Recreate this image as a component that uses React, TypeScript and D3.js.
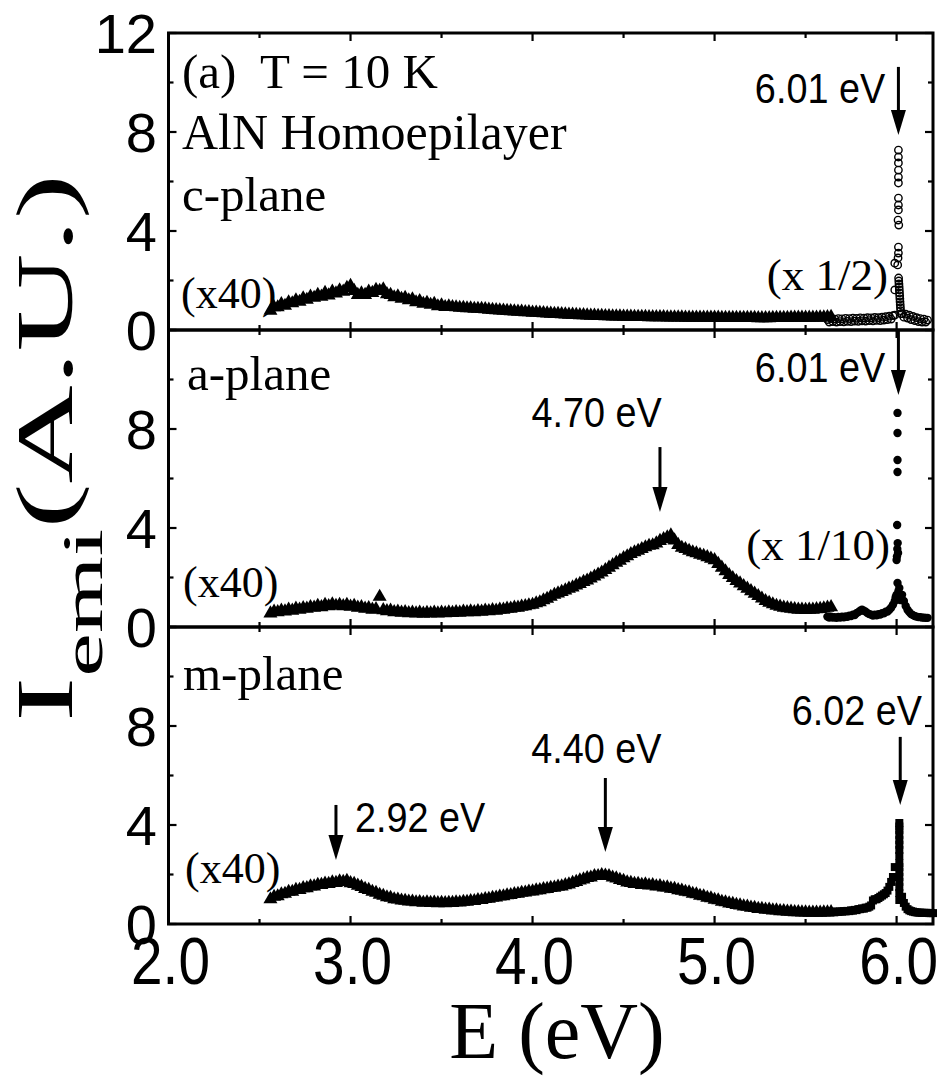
import React from "react";
import * as d3 from "d3";

const W = 947;
const H = 1076;

// Axis layout
const X_DOMAIN: [number, number] = [2.0, 6.2];
const X_MAJOR = [2, 3, 4, 5, 6];
const X_MINOR = [2.5, 3.5, 4.5, 5.5];
const X_LABELS = ["2.0", "3.0", "4.0", "5.0", "6.0"];
const Y_DOMAIN: [number, number] = [0, 12];
const Y_MAJOR = [0, 4, 8, 12];
const Y_MINOR = [2, 6, 10];

// Broad defect band (x40): triangles on a regular energy grid
const BAND_START = 2.56;
const BAND_STEP = 0.02;

const cBand = [
  0.78, 0.92, 0.92, 1.05, 0.98, 1.12, 1.08, 1.2, 1.14, 1.28,
  1.22, 1.35, 1.3, 1.42, 1.35, 1.5, 1.4, 1.55, 1.48, 1.6,
  1.55, 1.7, 1.78, 1.58, 1.42, 1.48, 1.42, 1.55, 1.5, 1.62,
  1.58, 1.64, 1.45, 1.42, 1.32, 1.36, 1.26, 1.3, 1.2, 1.24,
  1.12, 1.17, 1.06, 1.1, 1.02, 1.06, 0.96, 1.0, 0.93, 0.96,
  0.93, 0.92, 0.9, 0.9, 0.88, 0.88, 0.86, 0.86, 0.85, 0.84,
  0.82, 0.81, 0.8, 0.79, 0.78, 0.77, 0.76, 0.75, 0.74, 0.74,
  0.72, 0.72, 0.7, 0.7, 0.69, 0.68, 0.67, 0.66, 0.65, 0.65,
  0.64, 0.63, 0.62, 0.62, 0.61, 0.6, 0.6, 0.59, 0.58, 0.58,
  0.57, 0.57, 0.56, 0.56, 0.55, 0.55, 0.55, 0.54, 0.54, 0.54,
  0.53, 0.53, 0.53, 0.53, 0.52, 0.52, 0.52, 0.52, 0.52, 0.51,
  0.51, 0.51, 0.51, 0.51, 0.5, 0.5, 0.5, 0.5, 0.5, 0.5,
  0.5, 0.5, 0.5, 0.5, 0.49, 0.49, 0.49, 0.49, 0.49, 0.49,
  0.49, 0.49, 0.49, 0.49, 0.48, 0.48, 0.48, 0.48, 0.49, 0.49,
  0.49, 0.49, 0.49, 0.5, 0.5, 0.5, 0.5, 0.5, 0.5, 0.5,
  0.5, 0.51, 0.51, 0.52, 0.53,
];

const aBand = [
  0.55, 0.62, 0.6, 0.66, 0.63, 0.7, 0.66, 0.74, 0.7, 0.76,
  0.74, 0.8, 0.78, 0.86, 0.8, 0.9, 0.84, 0.92, 0.86, 0.9,
  0.84, 0.9, 0.82, 0.86, 0.78, 0.8, 0.74, 0.76, 0.7, 0.72,
  1.22, 0.68, 0.64, 0.66, 0.6, 0.62, 0.58, 0.6, 0.56, 0.58,
  0.55, 0.58, 0.54, 0.57, 0.55, 0.58, 0.55, 0.58, 0.56, 0.59,
  0.57, 0.6, 0.58, 0.62, 0.6, 0.63, 0.6, 0.64, 0.62, 0.66,
  0.64, 0.68, 0.66, 0.7, 0.7, 0.74, 0.74, 0.78, 0.78, 0.82,
  0.84, 0.88, 0.9, 0.96, 1.0, 1.08, 1.14, 1.22, 1.3, 1.36,
  1.42, 1.48, 1.55, 1.6, 1.68, 1.74, 1.82, 1.88, 1.96, 2.04,
  2.12, 2.2, 2.3, 2.4, 2.5, 2.6, 2.68, 2.78, 2.86, 2.95,
  3.02, 3.08, 3.15, 3.22, 3.28, 3.3, 3.38, 3.48, 3.55, 3.62,
  3.7, 3.5, 3.32, 3.2, 3.15, 3.08, 3.02, 2.98, 2.92, 2.88,
  2.82, 2.76, 2.7, 2.55, 2.4, 2.25, 2.1, 1.98, 1.86, 1.76,
  1.65, 1.55, 1.45, 1.35, 1.25, 1.15, 1.05, 0.98, 0.92, 0.86,
  0.82, 0.78, 0.76, 0.74, 0.72, 0.7, 0.7, 0.69, 0.7, 0.7,
  0.72, 0.73, 0.75, 0.78, 0.8,
];

const mBand = [
  1.0, 1.1, 1.12, 1.2, 1.22, 1.3, 1.3, 1.38, 1.38, 1.45,
  1.45, 1.52, 1.52, 1.58, 1.58, 1.63, 1.62, 1.68, 1.66, 1.72,
  1.7, 1.74, 1.65, 1.62, 1.55, 1.5, 1.42, 1.38, 1.3, 1.26,
  1.18, 1.14, 1.08, 1.06, 1.0, 0.99, 0.95, 0.94, 0.91, 0.91,
  0.88, 0.89, 0.86, 0.88, 0.85, 0.87, 0.84, 0.86, 0.84, 0.86,
  0.85, 0.88, 0.87, 0.9, 0.9, 0.93, 0.93, 0.97, 0.97, 1.01,
  1.02, 1.06, 1.07, 1.11, 1.12, 1.16, 1.17, 1.21, 1.22, 1.26,
  1.27, 1.31, 1.32, 1.36, 1.37, 1.41, 1.42, 1.46, 1.47, 1.51,
  1.52, 1.57, 1.6, 1.66, 1.7, 1.76, 1.8, 1.86, 1.88, 1.94,
  1.94, 1.98, 1.96, 1.94, 1.88, 1.84, 1.78, 1.74, 1.68, 1.66,
  1.62, 1.62, 1.58, 1.6, 1.56, 1.57, 1.52, 1.53, 1.48, 1.48,
  1.43, 1.42, 1.37, 1.35, 1.3, 1.28, 1.22, 1.2, 1.14, 1.12,
  1.06, 1.04, 0.98, 0.96, 0.9, 0.88, 0.83, 0.81, 0.77, 0.75,
  0.71, 0.7, 0.66, 0.65, 0.61, 0.61, 0.58, 0.58, 0.55, 0.55,
  0.52, 0.52, 0.5, 0.5, 0.48, 0.48, 0.47, 0.47, 0.46, 0.46,
  0.46, 0.46, 0.47, 0.47, 0.48,
];

// Near-band-edge emission: low-energy tail, peak column, high-energy tail
const EDGE_STEP = 0.01;

// c-plane (x 1/2), open circles
const cLowStart = 5.62;
const cLow = [
  0.42, 0.32, 0.46, 0.34, 0.44, 0.32, 0.46, 0.34, 0.45, 0.33,
  0.47, 0.35, 0.46, 0.34, 0.48, 0.36, 0.47, 0.35, 0.49, 0.37,
  0.48, 0.36, 0.5, 0.38, 0.49, 0.37, 0.51, 0.39, 0.5, 0.38,
  0.52, 0.4, 0.54, 0.42, 0.56, 0.44, 0.58, 0.6,
];
const cHighStart = 6.03;
const cHigh = [0.66, 0.52, 0.64, 0.48, 0.6, 0.42, 0.55, 0.38, 0.5, 0.34, 0.46, 0.32, 0.44, 0.32, 0.4];
const cPeakE = [
  6.01, 6.01, 6.01, 6.01, 6.01, 6.01, 6.01, 6.01, 6.01, 6.008,
  6.012, 6.01, 6.01, 6.008, 6.006, 5.99, 5.99,
  6.011, 6.012, 6.013, 6.014, 6.015, 6.016, 6.017, 6.018, 6.019,
  6.02, 6.021, 6.022, 6.023,
];
const cPeakI = [
  7.27, 6.99, 6.75, 6.46, 6.18, 5.94, 5.33, 5.05, 4.85, 4.44,
  4.24, 3.35, 3.11, 2.91, 2.63, 2.7, 1.62,
  2.1, 1.98, 1.86, 1.74, 1.62, 1.5, 1.38, 1.26, 1.14,
  1.02, 0.9, 0.78, 0.66,
];

// a-plane (x 1/10), filled circles
const aLowStart = 5.62;
const aLow = [
  0.42, 0.38, 0.42, 0.38, 0.4, 0.37, 0.41, 0.38, 0.42, 0.39,
  0.43, 0.41, 0.46, 0.44, 0.5, 0.48, 0.56, 0.6, 0.66, 0.7,
  0.66, 0.62, 0.56, 0.52, 0.5, 0.46, 0.5, 0.47, 0.52, 0.5,
  0.56, 0.55, 0.62, 0.62, 0.7, 0.78, 0.9, 1.05,
];
const aHighStart = 6.03;
const aHigh = [1.3, 1.05, 0.85, 0.7, 0.6, 0.52, 0.48, 0.44, 0.42, 0.4, 0.4, 0.38, 0.38, 0.37, 0.37];
const aPeakE = [
  6.005, 6.005, 6.005, 6.005, 6.003, 6.006, 6.004, 6.008, 6.0, 6.002,
  6.005, 6.015, 6.0, 6.02, 5.995, 6.01,
];
const aPeakI = [
  8.65, 7.84, 6.75, 6.26, 4.12, 3.39, 3.15, 2.99, 2.71, 2.85,
  1.78, 1.58, 1.3, 1.09, 1.2, 1.45,
];

// m-plane, filled squares
const mLowStart = 5.64;
const mLow = [
  0.48, 0.5, 0.48, 0.5, 0.49, 0.51, 0.5, 0.52, 0.51, 0.53,
  0.52, 0.55, 0.54, 0.57, 0.56, 0.6, 0.6, 0.63, 0.62, 0.66,
  0.66, 0.7, 0.75, 0.95, 1.0, 1.0, 1.05, 1.1, 1.15, 1.2,
  1.25, 1.35, 1.5, 1.7, 1.9, 2.3,
];
const mHighStart = 6.03;
const mHigh = [
  1.1, 0.85, 0.7, 0.6, 0.55, 0.52, 0.5, 0.48, 0.47, 0.46,
  0.46, 0.45, 0.45, 0.45, 0.45, 0.44, 0.44, 0.44,
];
const mPeakE = [
  6.015, 6.015, 6.015, 6.015, 6.015, 6.015, 6.015, 6.015,
  6.015, 6.015, 6.015, 6.015, 6.015, 6.015, 6.015, 6.015,
];
const mPeakI = [
  4.08, 3.94, 3.8, 3.6, 3.39, 3.2, 2.99, 2.75,
  2.46, 2.3, 2.1, 1.9, 1.7, 1.49, 1.25, 0.97,
];

// Peak markers: panel, energy, arrow top and tip (intensity units)
const arrowPanel = [0, 1, 1, 2, 2, 2];
const arrowE = [6.01, 6.01, 4.7, 6.02, 4.4, 2.92];
const arrowTop = [10.63, 12.0, 7.27, 7.56, 5.9, 4.81];
const arrowTip = [7.88, 9.37, 4.65, 4.81, 2.91, 2.59];
const arrowText = ["6.01 eV", "6.01 eV", "4.70 eV", "6.02 eV", "4.40 eV", "2.92 eV"];
const arrowTextE = [5.937, 5.937, 4.352, 6.14, 4.35, 3.025];
const arrowTextI = [9.17, 9.9, 8.08, 8.04, 6.5, 3.72];
const arrowTextAnchor = ["end", "end", "middle", "end", "middle", "start"];

const serifFont = "'Liberation Serif', 'Times New Roman', serif";
const sansFont = "'Liberation Sans', Arial, sans-serif";

const PLOT_LEFT = 168.5;
const PLOT_RIGHT = 933;
const PANEL_TOPS = [33, 330, 627];
const PANEL_H = 297;

const x = d3.scaleLinear().domain(X_DOMAIN).range([PLOT_LEFT, PLOT_RIGHT]);
const yScales = PANEL_TOPS.map((t) =>
  d3.scaleLinear().domain(Y_DOMAIN).range([t + PANEL_H, t])
);

const grid = (start: number, step: number, n: number) =>
  d3.range(n).map((i) => +(start + i * step).toFixed(3));

function edgeSeries(lowStart: number, low: number[], highStart: number, high: number[], pe: number[], pi: number[]) {
  const le = grid(lowStart, EDGE_STEP, low.length);
  const he = grid(highStart, EDGE_STEP, high.length);
  return [
    ...le.map((e, i) => [e, low[i]]),
    ...he.map((e, i) => [e, high[i]]),
    ...pe.map((e, i) => [e, pi[i]]),
  ] as [number, number][];
}

const cEdge = edgeSeries(cLowStart, cLow, cHighStart, cHigh, cPeakE, cPeakI);
const aEdge = edgeSeries(aLowStart, aLow, aHighStart, aHigh, aPeakE, aPeakI);
const mEdge = edgeSeries(mLowStart, mLow, mHighStart, mHigh, mPeakE, mPeakI);

const triPath = d3.symbol().type(d3.symbolTriangle).size(85)() as string;
const sqPath = d3.symbol().type(d3.symbolSquare).size(64)() as string;

function Frame({ yi }: { yi: number }) {
  const y = yScales[yi];
  const top = y(12);
  const bot = y(0);
  const ticks: React.ReactNode[] = [];
  X_MAJOR.forEach((v, i) => {
    const px = x(v);
    ticks.push(<line key={`xb${i}`} x1={px} x2={px} y1={bot} y2={bot - 8} />);
    ticks.push(<line key={`xt${i}`} x1={px} x2={px} y1={top} y2={top + 8} />);
  });
  X_MINOR.forEach((v, i) => {
    const px = x(v);
    ticks.push(<line key={`xmb${i}`} x1={px} x2={px} y1={bot} y2={bot - 5} />);
    ticks.push(<line key={`xmt${i}`} x1={px} x2={px} y1={top} y2={top + 5} />);
  });
  Y_MAJOR.forEach((v, i) => {
    const py = y(v);
    ticks.push(<line key={`yl${i}`} x1={PLOT_LEFT} x2={PLOT_LEFT + 8} y1={py} y2={py} />);
    ticks.push(<line key={`yr${i}`} x1={PLOT_RIGHT} x2={PLOT_RIGHT - 8} y1={py} y2={py} />);
  });
  Y_MINOR.forEach((v, i) => {
    const py = y(v);
    ticks.push(<line key={`yml${i}`} x1={PLOT_LEFT} x2={PLOT_LEFT + 5} y1={py} y2={py} />);
    ticks.push(<line key={`ymr${i}`} x1={PLOT_RIGHT} x2={PLOT_RIGHT - 5} y1={py} y2={py} />);
  });
  return (
    <g stroke="#000" strokeWidth={2.2}>
      {ticks}
      <rect
        x={PLOT_LEFT}
        y={top}
        width={PLOT_RIGHT - PLOT_LEFT}
        height={bot - top}
        fill="none"
        strokeWidth={3}
      />
    </g>
  );
}

function Band({ yi, values }: { yi: number; values: number[] }) {
  const y = yScales[yi];
  const es = grid(BAND_START, BAND_STEP, values.length);
  return (
    <g fill="#000">
      {values.map((v, i) => (
        <path key={i} d={triPath} transform={`translate(${x(es[i])},${y(v)})`} />
      ))}
    </g>
  );
}

export default function App() {
  const yLabelTicks = [
    { yi: 0, vals: [12, 8, 4, 0] },
    { yi: 1, vals: [8, 4, 0] },
    { yi: 2, vals: [8, 4, 0] },
  ];
  return (
    <svg
      width={W}
      height={H}
      viewBox={`0 0 ${W} ${H}`}
      style={{ position: "absolute", left: 0, top: 0, background: "#fff" }}
    >
      <rect width={W} height={H} fill="#fff" />

      {/* defect bands */}
      <Band yi={0} values={cBand} />
      <Band yi={1} values={aBand} />
      <Band yi={2} values={mBand} />

      {/* near-band-edge emission */}
      <g fill="none" stroke="#000" strokeWidth={1.4}>
        {cEdge.map(([e, v], i) => (
          <circle key={i} cx={x(e)} cy={yScales[0](v)} r={3.7} />
        ))}
      </g>
      <g fill="#000">
        {aEdge.map(([e, v], i) => (
          <circle key={i} cx={x(e)} cy={yScales[1](v)} r={4.2} />
        ))}
      </g>
      <g fill="#000">
        {mEdge.map(([e, v], i) => (
          <path key={i} d={sqPath} transform={`translate(${x(e)},${yScales[2](v)})`} />
        ))}
      </g>

      {/* frames */}
      <Frame yi={0} />
      <Frame yi={1} />
      <Frame yi={2} />

      {/* y tick labels */}
      <g fontFamily={sansFont} fontSize={56} textAnchor="end" fill="#000">
        {yLabelTicks.map(({ yi, vals }) =>
          vals.map((v) => (
            <text key={`${yi}-${v}`} x={157} y={yScales[yi](v) + 20}>
              {v}
            </text>
          ))
        )}
      </g>

      {/* x tick labels */}
      <g fontFamily={sansFont} fontSize={66} textAnchor="middle" fill="#000">
        {X_MAJOR.map((v, i) => (
          <text key={i} transform={`translate(${x(v) + 2},${984}) scale(0.86,1)`}>
            {X_LABELS[i]}
          </text>
        ))}
      </g>

      {/* axis titles */}
      <text
        x={557}
        y={1058}
        fontFamily={serifFont}
        fontSize={80}
        textAnchor="middle"
        fill="#000"
      >
        E (eV)
      </text>
      <text
        transform="translate(72,722) rotate(-90) scale(1.7,1)"
        fontFamily={serifFont}
        fontSize={80}
        fill="#000"
      >
        <tspan>I</tspan>
        <tspan fontSize={58} dy={30}>emi</tspan>
        <tspan dy={-30}>(A.U.)</tspan>
      </text>

      {/* panel texts */}
      <g fontFamily={serifFont} fill="#000">
        <text x={182} y={88} fontSize={49} style={{ whiteSpace: "pre" }}>
          (a)  T = 10 K
        </text>
        <text x={182} y={149} fontSize={50}>AlN Homoepilayer</text>
        <text x={182} y={211} fontSize={49}>c-plane</text>
        <text x={181} y={308} fontSize={44}>(x40)</text>
        <text x={888} y={290} fontSize={45} textAnchor="end">(x 1/2)</text>

        <text x={187} y={390} fontSize={49}>a-plane</text>
        <text x={183} y={597} fontSize={44}>(x40)</text>
        <text x={890} y={560} fontSize={45} textAnchor="end">(x 1/10)</text>

        <text x={183} y={690} fontSize={49}>m-plane</text>
        <text x={185} y={883} fontSize={44}>(x40)</text>
      </g>

      {/* peak arrows and energies */}
      {arrowE.map((e, i) => {
        const y = yScales[arrowPanel[i]];
        const px = x(e);
        const yTop = y(arrowTop[i]);
        const yTip = y(arrowTip[i]);
        const yHead = yTip - 25;
        return (
          <g key={i}>
            <line x1={px} x2={px} y1={yTop} y2={yHead + 2} stroke="#000" strokeWidth={3} />
            <path d={`M${px - 7.5},${yHead}L${px + 7.5},${yHead}L${px},${yTip}Z`} fill="#000" />
            <text
              transform={`translate(${x(arrowTextE[i])},${y(arrowTextI[i])}) scale(0.9,1)`}
              fontFamily={sansFont}
              fontSize={42}
              textAnchor={arrowTextAnchor[i]}
              fill="#000"
            >
              {arrowText[i]}
            </text>
          </g>
        );
      })}
    </svg>
  );
}
